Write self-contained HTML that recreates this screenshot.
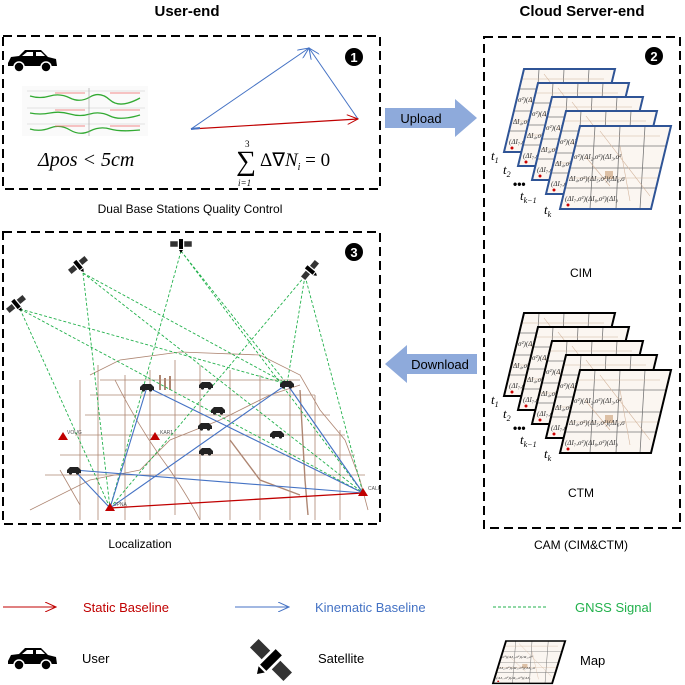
<!DOCTYPE html>
<html><head><meta charset="utf-8"><style>
body{margin:0;background:#fff;}
svg{display:block;font-family:"Liberation Sans",sans-serif;}
</style></head><body>
<svg width="685" height="685" viewBox="0 0 685 685" xmlns="http://www.w3.org/2000/svg">
<defs>
<marker id="ar" markerWidth="12" markerHeight="10" refX="11" refY="5" orient="auto" markerUnits="userSpaceOnUse"><path d="M0,0 L11,5 L0,10" fill="none" stroke="#c00000" stroke-width="1"/></marker>
<marker id="ab" markerWidth="12" markerHeight="10" refX="11" refY="5" orient="auto" markerUnits="userSpaceOnUse"><path d="M0,0 L11,5 L0,10" fill="none" stroke="#4472c4" stroke-width="1"/></marker>
<clipPath id="fc"><polygon points="20,0 111,0 91,83 0,83"/></clipPath>
<g id="car"><path d="M0,14 L3,8 L11,7 L17,1 L33,1 L40,8 L48,10 L49,17 L0,17 Z" fill="#000"/><path d="M14,7 L19,3 L25,3 L25,7 Z M28,3 L33,3 L37,7 L28,7Z" fill="#fff"/><circle cx="11" cy="18" r="5" fill="#000" stroke="#fff" stroke-width="1.5"/><circle cx="38" cy="18" r="5" fill="#000" stroke="#fff" stroke-width="1.5"/></g>
<g id="mcar"><path d="M0,4 L3,1 L11,1 L14,4 L14,7 L0,7Z" fill="#222"/><circle cx="3.5" cy="7" r="1.6" fill="#222"/><circle cx="10.5" cy="7" r="1.6" fill="#222"/></g>
<g id="sat"><rect x="-11" y="-3" width="8" height="6" fill="#333" stroke="#fff" stroke-width="0.5"/><rect x="3" y="-3" width="8" height="6" fill="#333" stroke="#fff" stroke-width="0.5"/><rect x="-2" y="-5" width="4" height="10" fill="#000"/><path d="M-2,6 L2,6 L0,9Z" fill="#000"/></g>
<g id="frame"><polygon points="20,0 111,0 91,83 0,83" fill="#fbf6f1" stroke="none"/>
<g clip-path="url(#fc)" stroke="none">
<path d="M35,0 L30,83 M60,0 L56,83 M85,0 L80,83 M0,20 L111,20 M0,42 L111,42 M0,62 L111,62" stroke="#777" stroke-width="0.8"/>
<path d="M40,5 L90,70 M25,30 L50,60 M60,20 L70,75 M10,10 H100 M5,52 H100" stroke="#d2b49c" stroke-width="0.6"/>
<rect x="45" y="45" width="8" height="8" fill="#ddc0a5"/>
<g font-family="Liberation Serif" font-style="italic" font-size="7" fill="#333" stroke="none">
<text x="14" y="33">σ²)(ΔI₂,σ²)(ΔI₃,σ²</text>
<text x="9" y="55">ΔI₄,σ²)(ΔI₅,σ²)(ΔI₆,σ</text>
<text x="5" y="75">(ΔI₇,σ²)(ΔI₈,σ²)(ΔI₉</text>
</g>
<circle cx="8" cy="79" r="1.5" fill="#c00"/>
</g>
</g>
</defs>

<text x="187" y="16" font-size="15" font-weight="bold" text-anchor="middle">User-end</text>
<text x="582" y="16" font-size="15" font-weight="bold" text-anchor="middle">Cloud Server-end</text>

<rect x="3" y="36" width="377" height="153" fill="none" stroke="#000" stroke-width="2" stroke-dasharray="9,5"/>
<rect x="3" y="232" width="377" height="292" fill="none" stroke="#000" stroke-width="2" stroke-dasharray="9,5"/>
<rect x="484" y="37" width="196" height="491" fill="none" stroke="#000" stroke-width="2" stroke-dasharray="9,5"/>

<text x="190" y="213" font-size="12" text-anchor="middle">Dual Base Stations Quality Control</text>
<text x="140" y="548" font-size="12" text-anchor="middle">Localization</text>
<text x="581" y="549" font-size="12" text-anchor="middle">CAM (CIM&amp;CTM)</text>

<circle cx="354" cy="57" r="9" fill="#000"/><text x="354" y="62" font-size="13" font-weight="bold" fill="#fff" text-anchor="middle">1</text>
<circle cx="654" cy="56" r="9" fill="#000"/><text x="654" y="61" font-size="13" font-weight="bold" fill="#fff" text-anchor="middle">2</text>
<circle cx="354" cy="252" r="9" fill="#000"/><text x="354" y="257" font-size="13" font-weight="bold" fill="#fff" text-anchor="middle">3</text>

<use href="#car" x="8" y="49"/>
<g>
<rect x="22" y="86" width="126" height="50" fill="#fafafa"/>
<path d="M27,91 H145 M27,108 H145 M27,124 H145" stroke="#ccc" stroke-width="0.6"/>
<path d="M30,96 q10,3 20,0 t20,2 t20,-1 t20,3 t30,-2 M30,113 q10,2 20,0 t20,1 t20,0 t20,2 t30,-1 M30,129 q10,3 20,-1 t20,2 t20,1 t20,-2 t30,1" stroke="#3a3" stroke-width="1.3" fill="none"/>
<path d="M55,93 H85 M110,93 H140 M55,110 H85 M110,110 H140 M55,126 H85 M110,126 H140" stroke="#e66" stroke-width="0.7"/>
<path d="M89,88 V136" stroke="#999" stroke-width="0.6"/>
</g>
<text x="38" y="166" font-family="Liberation Serif" font-style="italic" font-size="20">Δpos &lt; 5cm</text>
<line x1="191" y1="129" x2="309" y2="48" stroke="#4472c4" stroke-width="1" marker-end="url(#ab)"/>
<line x1="358" y1="119" x2="309" y2="48" stroke="#4472c4" stroke-width="1" marker-end="url(#ab)"/>
<line x1="191" y1="129" x2="358" y2="119" stroke="#c00000" stroke-width="1.2" marker-end="url(#ar)"/>
<line x1="191" y1="129" x2="200" y2="128" stroke="#4472c4" stroke-width="2"/>
<text x="236" y="170" font-family="Liberation Serif" font-size="28">∑</text>
<text x="245" y="147" font-family="Liberation Serif" font-size="9">3</text>
<text x="238" y="186" font-family="Liberation Serif" font-style="italic" font-size="9">i=1</text>
<text x="260" y="166" font-family="Liberation Serif" font-size="19"><tspan>Δ∇</tspan><tspan font-style="italic">N</tspan><tspan font-size="10" dy="4" font-style="italic">i</tspan><tspan dy="-4"> = 0</tspan></text>

<polygon points="385,108 455,108 455,99 477,118 455,137 455,128 385,128" fill="#8eaadb"/>
<text x="421" y="123" font-size="13" fill="#000" text-anchor="middle">Upload</text>
<polygon points="477,354 407,354 407,345 385,364 407,383 407,374 477,374" fill="#8eaadb"/>
<text x="440" y="369" font-size="13" text-anchor="middle">Download</text>

<g fill="none" stroke="#2f5496" stroke-width="2">
<g transform="translate(504,69)"><use href="#frame"/><polygon points="20,0 111,0 91,83 0,83"/></g>
<g transform="translate(518,83)"><use href="#frame"/><polygon points="20,0 111,0 91,83 0,83"/></g>
<g transform="translate(532,97)"><use href="#frame"/><polygon points="20,0 111,0 91,83 0,83"/></g>
<g transform="translate(546,111)"><use href="#frame"/><polygon points="20,0 111,0 91,83 0,83"/></g>
<g transform="translate(560,126)"><use href="#frame"/><polygon points="20,0 111,0 91,83 0,83"/></g>
</g>
<g font-family="Liberation Serif" font-style="italic" font-size="13">
<text x="491" y="160">t<tspan font-size="8" dy="3">1</tspan></text>
<text x="503" y="174">t<tspan font-size="8" dy="3">2</tspan></text>
<text x="520" y="200">t<tspan font-size="8" dy="3">k−1</tspan></text>
<text x="544" y="214">t<tspan font-size="8" dy="3">k</tspan></text>
</g>
<text x="513" y="188" font-size="12" font-weight="bold">•••</text>
<text x="581" y="277" font-size="12" text-anchor="middle">CIM</text>

<g fill="none" stroke="#000" stroke-width="2">
<g transform="translate(504,313)"><use href="#frame"/><polygon points="20,0 111,0 91,83 0,83"/></g>
<g transform="translate(518,327)"><use href="#frame"/><polygon points="20,0 111,0 91,83 0,83"/></g>
<g transform="translate(532,341)"><use href="#frame"/><polygon points="20,0 111,0 91,83 0,83"/></g>
<g transform="translate(546,355)"><use href="#frame"/><polygon points="20,0 111,0 91,83 0,83"/></g>
<g transform="translate(560,370)"><use href="#frame"/><polygon points="20,0 111,0 91,83 0,83"/></g>
</g>
<g font-family="Liberation Serif" font-style="italic" font-size="13">
<text x="491" y="404">t<tspan font-size="8" dy="3">1</tspan></text>
<text x="503" y="418">t<tspan font-size="8" dy="3">2</tspan></text>
<text x="520" y="444">t<tspan font-size="8" dy="3">k−1</tspan></text>
<text x="544" y="458">t<tspan font-size="8" dy="3">k</tspan></text>
</g>
<text x="513" y="432" font-size="12" font-weight="bold">•••</text>
<text x="581" y="497" font-size="12" text-anchor="middle">CTM</text>

<g stroke="#a0715a" stroke-width="0.8" fill="none" opacity="0.85">
<path d="M90,375 L120,360 L180,352 L260,355 L300,375 L320,410 L345,440 L360,480 L368,510"/>
<path d="M80,380 L80,520 M98,365 L98,520 M125,375 L125,520 M150,370 L150,520 M175,360 L175,515 M200,365 L200,520 M230,370 L230,520 M260,375 L260,520 M290,380 L290,520 M315,395 L315,520 M340,430 L340,520"/>
<path d="M45,475 H365 M60,455 H355 M75,435 H345 M85,415 H330 M90,395 H315 M100,380 H300"/>
<path d="M30,510 L90,480 L140,470 L170,440 L220,420 L270,395 L300,385 M115,380 Q140,430 170,470 Q190,500 200,520 M60,470 L80,505"/>
<path d="M300,390 L305,480 L308,515 M230,440 L260,480 L300,495" stroke-width="1.4"/>
<path d="M160,375 v15 M165,378 v12 M170,376 v14" stroke-width="2"/>
</g>

<g stroke="#22b14c" stroke-width="0.9" stroke-dasharray="3,2" fill="none">
<path d="M20,309 L110,508 M20,309 L363,493 M20,309 L287,384"/>
<path d="M83,273 L110,508 M83,273 L363,493 M83,273 L287,384"/>
<path d="M181,251 L110,508 M181,251 L363,493 M181,251 L287,384"/>
<path d="M305,276 L110,508 M305,276 L363,493 M305,276 L287,384"/>
</g>
<g stroke="#4472c4" stroke-width="1.1">
<path d="M110,508 L147,387 M110,508 L287,384 M110,508 L74,470 M363,493 L147,387 M363,493 L287,384 M363,493 L74,470"/>
</g>
<line x1="110" y1="508" x2="363" y2="493" stroke="#c00000" stroke-width="1.3"/>
<g fill="#c00000">
<polygon points="110,503 115,511 105,511"/><polygon points="363,488 368,496 358,496"/>
<polygon points="63,432 68,440 58,440"/><polygon points="155,432 160,440 150,440"/>
</g>
<g font-size="5" fill="#555"><text x="67" y="434">VOUG</text><text x="160" y="434">KAR1</text><text x="368" y="490">CALU</text><text x="114" y="506">JPNA</text></g>
<use href="#mcar" x="140" y="383"/><use href="#mcar" x="280" y="380"/><use href="#mcar" x="67" y="466"/>
<use href="#mcar" x="199" y="381"/><use href="#mcar" x="211" y="406"/><use href="#mcar" x="198" y="422"/><use href="#mcar" x="270" y="430"/><use href="#mcar" x="199" y="447"/>
<use href="#sat" transform="translate(16,304) rotate(-40)"/>
<use href="#sat" transform="translate(78,265) rotate(-40)"/>
<use href="#sat" transform="translate(181,244)"/>
<use href="#sat" transform="translate(310,270) rotate(-50)"/>

<line x1="3" y1="607" x2="56" y2="607" stroke="#c00000" stroke-width="1" marker-end="url(#ar)"/>
<text x="83" y="612" font-size="13" fill="#c00000">Static Baseline</text>
<line x1="235" y1="607" x2="289" y2="607" stroke="#4472c4" stroke-width="1" marker-end="url(#ab)"/>
<text x="315" y="612" font-size="13" fill="#4472c4">Kinematic Baseline</text>
<line x1="493" y1="607" x2="548" y2="607" stroke="#22b14c" stroke-width="1" stroke-dasharray="3,2"/>
<text x="575" y="612" font-size="13" fill="#22b14c">GNSS Signal</text>
<use href="#car" x="8" y="647"/>
<text x="82" y="663" font-size="13">User</text>
<g transform="translate(271,660) rotate(45) scale(2.2)"><use href="#sat"/></g>
<text x="318" y="663" font-size="13">Satellite</text>
<g transform="translate(493,641) scale(0.65,0.51)"><use href="#frame"/><polygon points="20,0 111,0 91,83 0,83" fill="none" stroke="#000" stroke-width="3"/></g>
<text x="580" y="665" font-size="13">Map</text>
</svg>
</body></html>
